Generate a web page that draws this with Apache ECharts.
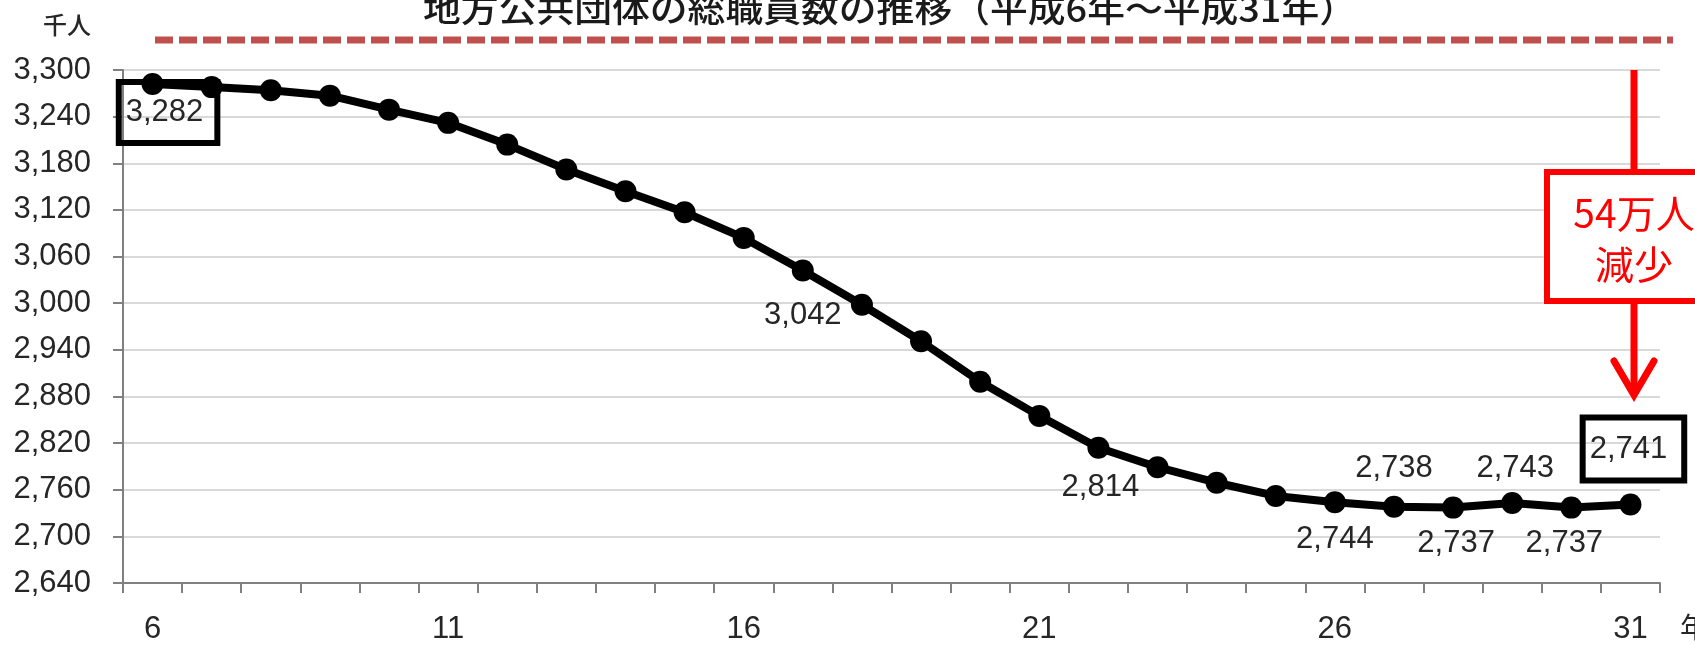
<!DOCTYPE html>
<html>
<head>
<meta charset="utf-8">
<script src="https://cdn.jsdelivr.net/npm/echarts@6/dist/echarts.min.js"></script>
<style>
html,body{margin:0;padding:0;background:#fff;}
#chart{width:1695px;height:645px;}
</style>
</head>
<body>
<div id="chart"></div>
<script>
// ---- data (平成 year, 千人) ----
const years = ['6','7','8','9','10','11','12','13','14','15','16','17','18','19','20','21','22','23','24','25','26','27','28','29','30','31'];
const staff = [3282,3278,3274,3267,3249,3232,3204,3172,3144,3117,3084,3042,2998,2951,2899,2855,2814,2789,2769,2752,2744,2738,2737,2743,2737,2741];
const yTicks = {min: 2640, max: 3300, step: 60};
const titleText = '地方公共団体の総職員数の推移（平成6年～平成31年）';
const unitText = '千人';
const noteLines = ['54万人', '減少'];

// ---- styling ----
const FONT = 'Liberation Sans, Arial, sans-serif';
const TXT = '#262626';
const FS = 31;
const fmt = v => String(v).replace(/\B(?=(\d{3})+(?!\d))/g, ',');

const plainLabel = (dx, dy) => ({
  show: true, position: 'inside', offset: [dx, dy],
  fontFamily: FONT, fontSize: FS, color: TXT, formatter: p => fmt(p.value)
});
const boxLabel = (dx, dy, pad) => ({
  show: true, position: 'inside', offset: [dx, dy],
  fontFamily: FONT, fontSize: FS, lineHeight: FS, color: TXT,
  borderColor: '#000', borderWidth: 6, padding: pad,
  formatter: p => fmt(p.value)
});
const labelCfg = {
  0: boxLabel(15.5, 28.5, [19, 14, 11, 7]),
  11: plainLabel(0, 45),
  16: plainLabel(2, 40),
  20: plainLabel(0, 37),
  21: plainLabel(0, -38),
  22: plainLabel(3, 36),
  23: plainLabel(3, -34),
  24: plainLabel(-7, 36),
  25: boxLabel(3, -55.5, [25, 17, 7, 7])
};
const seriesData = staff.map((v, i) => labelCfg[i] ? {value: v, label: labelCfg[i]} : {value: v});

const chart = echarts.init(document.getElementById('chart'), null, {renderer: 'canvas'});
chart.setOption({
  animation: false,
  backgroundColor: '#ffffff',
  grid: {left: 123, right: 35, top: 70, bottom: 59, containLabel: false},
  xAxis: {
    type: 'category', data: years, boundaryGap: true,
    axisLine: {lineStyle: {color: '#808080', width: 2}},
    axisTick: {show: true, interval: 0, length: 10, lineStyle: {color: '#808080', width: 2}},
    axisLabel: {interval: 4, margin: 31, fontFamily: FONT, fontSize: FS, color: TXT},
    splitLine: {show: false}
  },
  yAxis: {
    type: 'value', min: yTicks.min, max: yTicks.max, interval: yTicks.step,
    axisLine: {show: true, lineStyle: {color: '#808080', width: 2}},
    axisTick: {show: true, length: 10, lineStyle: {color: '#808080', width: 2}},
    axisLabel: {margin: 32, fontFamily: FONT, fontSize: FS, color: TXT, formatter: v => fmt(v)},
    splitLine: {show: true, lineStyle: {color: '#d9d9d9', width: 2}}
  },
  series: [{
    type: 'line', data: seriesData,
    symbol: 'circle', symbolSize: 22,
    lineStyle: {color: '#000', width: 8},
    itemStyle: {color: '#000'},
    label: {show: false},
    z: 3
  }],
  graphic: [
    {type: 'text', x: 890, y: 9, scaleX: 1.08, z: 10,
      style: {text: titleText, x: 0, y: 0, align: 'center', verticalAlign: 'middle',
        font: '500 35px "Noto Sans CJK JP"', fill: '#1a1a1a'}},
    {type: 'line', z: 10, shape: {x1: 155, y1: 40, x2: 1673, y2: 40},
      style: {stroke: '#C0504D', lineWidth: 7, lineDash: [18, 6]}},
    {type: 'text', x: 67, y: 25, z: 10,
      style: {text: unitText, align: 'center', verticalAlign: 'middle',
        font: '500 24px "Noto Sans CJK JP"', fill: TXT}},
    {type: 'text', x: 1680, y: 627, z: 10,
      style: {text: '年', align: 'left', verticalAlign: 'middle',
        font: 'normal 28px "Noto Sans CJK JP"', fill: TXT}},
    // red annotation
    {type: 'line', z: 20, shape: {x1: 1634, y1: 70, x2: 1634, y2: 172},
      style: {stroke: '#ff0000', lineWidth: 7}},
    {type: 'rect', z: 20, shape: {x: 1547, y: 172, width: 200, height: 129},
      style: {stroke: '#ff0000', lineWidth: 6, fill: '#ffffff'}},
    {type: 'text', x: 1634, y: 213, z: 21,
      style: {text: noteLines[0], align: 'center', verticalAlign: 'middle',
        font: 'normal 39px "Noto Sans CJK JP"', fill: '#ff0000'}},
    {type: 'text', x: 1634, y: 264, z: 21,
      style: {text: noteLines[1], align: 'center', verticalAlign: 'middle',
        font: 'normal 39px "Noto Sans CJK JP"', fill: '#ff0000'}},
    {type: 'line', z: 20, shape: {x1: 1634, y1: 301, x2: 1634, y2: 394},
      style: {stroke: '#ff0000', lineWidth: 7}},
    {type: 'polyline', z: 20, shape: {points: [[1614, 361], [1634, 395], [1654, 361]]},
      style: {stroke: '#ff0000', lineWidth: 7, fill: null, lineCap: 'round', lineJoin: 'miter'}}
  ]
});
</script>
</body>
</html>
